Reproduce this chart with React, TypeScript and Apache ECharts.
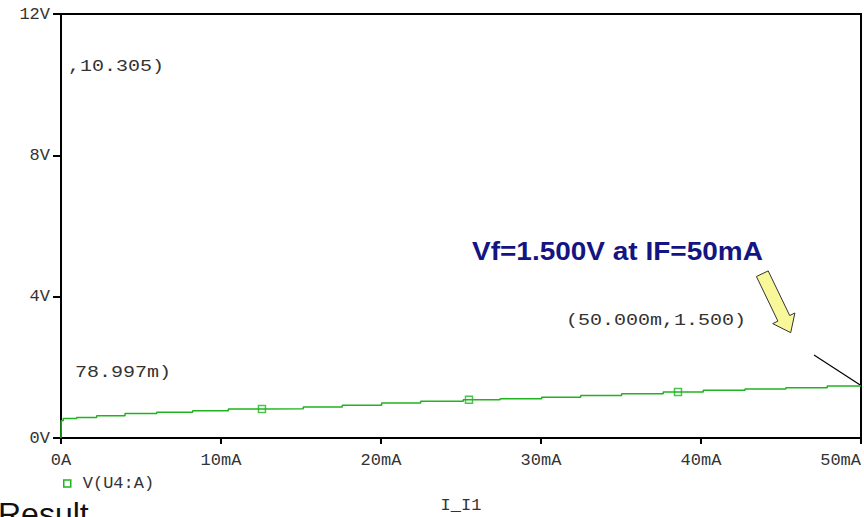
import React, { useEffect, useRef } from "react";
import * as echarts from "echarts";

// Sweep current (mA) at each step of the trace, and the voltage held from there
const currentMA = [0, 0.01, 0.14, 0.98, 2.23, 4.0, 5.98, 8.23, 10.46, 12.56, 15.14, 17.58, 20.04, 22.48, 25.14, 27.44, 30.04, 32.48, 35.04, 37.64, 40.14, 42.75, 45.31, 47.89, 50.0];
const voltageV = [0, 0.49, 0.55, 0.58, 0.63, 0.69, 0.73, 0.77, 0.82, 0.83, 0.88, 0.93, 0.99, 1.04, 1.08, 1.11, 1.15, 1.2, 1.25, 1.3, 1.35, 1.39, 1.42, 1.47, 1.49];

// Trace markers
const markerMA = [12.56, 25.5, 38.56];
const markerV = [0.82, 1.08, 1.3];

// Axis ranges / ticks
const xTicksMA = [0, 10, 20, 30, 40, 50];
const yTicksV = [0, 4, 8, 12];

const seriesName = "V(U4:A)";
const xAxisTitle = "I_I1";
const headline = "Vf=1.500V at IF=50mA";
const cursorLabels = [",10.305)", "78.997m)", "(50.000m,1.500)"];
const footer = "Result";

const GREEN = "#1fb41f";
const MONO = "'Liberation Mono', 'Courier New', monospace";
const TXT = "#333";

export default function App() {
  const ref = useRef<HTMLDivElement>(null);
  useEffect(() => {
    if (!ref.current) return;
    const chart = echarts.init(ref.current, null, { renderer: "svg" });
    const monoText = (text: string, x: number, y: number) => ({
      type: "text",
      x,
      y,
      scaleX: 1.25,
      style: { text, fontSize: 16, fontFamily: MONO, fill: TXT, verticalAlign: "middle" },
      silent: true,
    });
    chart.setOption({
      animation: false,
      backgroundColor: "#fff",
      grid: {
        left: 61,
        right: 3,
        top: 14,
        bottom: 79,
        outerBoundsMode: "none",
        containLabel: false,
        show: true,
        borderColor: "#000",
        borderWidth: 2,
        backgroundColor: "transparent",
      },
      xAxis: {
        type: "value",
        min: xTicksMA[0],
        max: xTicksMA[xTicksMA.length - 1],
        interval: 10,
        axisLine: { show: true, onZero: false, lineStyle: { color: "#000", width: 2 } },
        axisTick: { show: true, length: 6, lineStyle: { color: "#000", width: 2 } },
        splitLine: { show: false },
        axisLabel: {
          margin: 14,
          color: TXT,
          fontFamily: MONO,
          fontSize: 17,
          alignMaxLabel: "right",
          formatter: (v: number) => (v === 0 ? "0A" : v + "mA"),
        },
        name: xAxisTitle,
        nameLocation: "middle",
        nameGap: 59,
        nameTextStyle: { color: TXT, fontFamily: MONO, fontSize: 17 },
      },
      yAxis: {
        type: "value",
        min: yTicksV[0],
        max: yTicksV[yTicksV.length - 1],
        interval: 4,
        axisLine: { show: true, lineStyle: { color: "#000", width: 2 } },
        axisTick: { show: true, length: 8, lineStyle: { color: "#000", width: 2 } },
        splitLine: { show: false },
        axisLabel: {
          margin: 11,
          color: TXT,
          fontFamily: MONO,
          fontSize: 17,
          formatter: (v: number) => v + "V",
        },
      },
      legend: {
        left: 63,
        top: 475,
        padding: 0,
        itemWidth: 7,
        itemHeight: 7,
        data: [
          {
            name: seriesName,
            icon: "rect",
            itemStyle: { color: "rgba(0,0,0,0)", borderColor: GREEN, borderWidth: 1.5 },
          },
        ],
        textStyle: { color: TXT, fontFamily: MONO, fontSize: 17, padding: [0, 0, 0, 7] },
      },
      series: [
        {
          type: "line",
          name: seriesName,
          step: "end",
          data: currentMA.map((x, i) => [x, voltageV[i]]),
          symbol: "none",
          showSymbol: false,
          lineStyle: { color: GREEN, width: 1.5 },
          itemStyle: { color: GREEN },
        },
        {
          type: "scatter",
          name: "markers",
          data: markerMA.map((x, i) => [x, markerV[i]]),
          symbol: "rect",
          symbolSize: 7,
          itemStyle: { color: "rgba(0,0,0,0)", borderColor: GREEN, borderWidth: 1.5 },
          z: 3,
        },
      ],
      graphic: [
        monoText(cursorLabels[0], 68, 67),
        monoText(cursorLabels[1], 75, 373),
        monoText(cursorLabels[2], 566, 321),
        {
          type: "text",
          x: 472,
          y: 251,
          scaleX: 1.077,
          style: {
            text: headline,
            fontSize: 26,
            fontWeight: "bold",
            fontFamily: "'Liberation Sans', Arial, sans-serif",
            fill: "#141482",
            verticalAlign: "middle",
          },
          silent: true,
        },
        {
          type: "polygon",
          shape: {
            points: [
              [768.2, 270.9],
              [789.7, 315.5],
              [794.9, 313.0],
              [790.7, 332.7],
              [772.7, 323.6],
              [777.9, 321.1],
              [756.4, 276.5],
            ],
          },
          style: { fill: "#f8f89a", stroke: "#333", lineWidth: 1 },
          silent: true,
        },
        {
          type: "line",
          shape: { x1: 814, y1: 355, x2: 861, y2: 385.5 },
          style: { stroke: "#000", lineWidth: 1.2 },
          silent: true,
        },
        {
          type: "text",
          x: -2,
          y: 498,
          style: {
            text: footer,
            fontSize: 32,
            fontFamily: "'Liberation Sans', Arial, sans-serif",
            fill: "#111",
            verticalAlign: "top",
          },
          silent: true,
        },
      ],
    });
    return () => chart.dispose();
  }, []);
  return <div ref={ref} style={{ position: "fixed", left: 0, top: 0, width: 864, height: 517 }} />;
}
